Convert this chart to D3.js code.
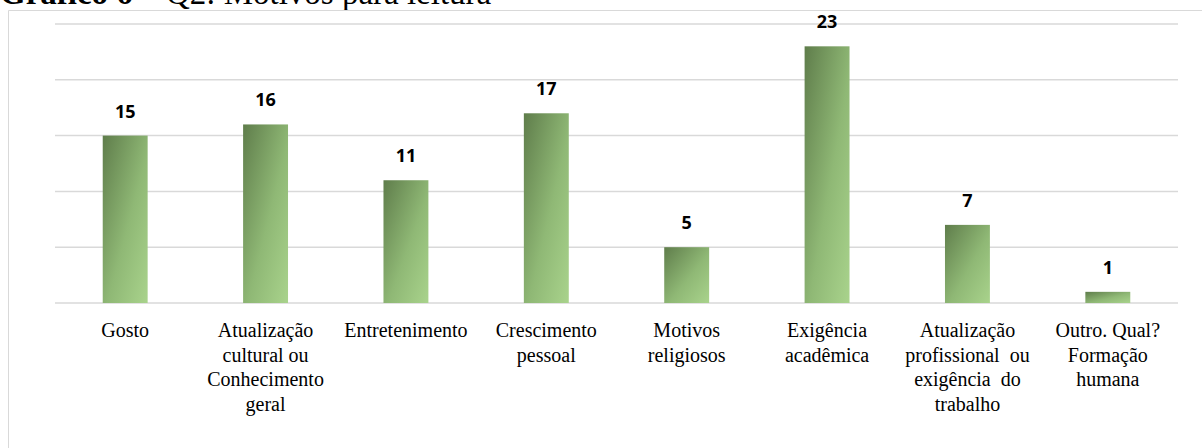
<!DOCTYPE html>
<html>
<head>
<meta charset="utf-8">
<script src="https://cdn.jsdelivr.net/npm/d3@7"></script>
<style>
  html, body { margin: 0; padding: 0; background: #fff; }
  svg { display: block; }
</style>
</head>
<body>
<div id="chart"></div>
<script>
// Motivos para leitura – contagem de respostas por categoria
const categories = [
  "Gosto",
  "Atualização cultural ou Conhecimento geral",
  "Entretenimento",
  "Crescimento pessoal",
  "Motivos religiosos",
  "Exigência acadêmica",
  "Atualização profissional ou exigência do trabalho",
  "Outro. Qual? Formação humana"
];
const categoryLines = [
  ["Gosto"],
  ["Atualização", "cultural ou", "Conhecimento", "geral"],
  ["Entretenimento"],
  ["Crescimento", "pessoal"],
  ["Motivos", "religiosos"],
  ["Exigência", "acadêmica"],
  ["Atualização", "profissional  ou", "exigência  do", "trabalho"],
  ["Outro. Qual?", "Formação", "humana"]
];
const values = [15, 16, 11, 17, 5, 23, 7, 1];
const yTicks = [0, 5, 10, 15, 20, 25];

const width = 1202, height = 448;
const svg = d3.select("#chart").append("svg")
  .attr("width", width).attr("height", height);

// Gradient fill for bars (dark top-left to light bottom-right)
const defs = svg.append("defs");
const grad = defs.append("linearGradient")
  .attr("id", "barGrad")
  .attr("x1", 0).attr("y1", 0).attr("x2", 1).attr("y2", 1);
grad.append("stop").attr("offset", "0%").attr("stop-color", "#5f7d4b");
grad.append("stop").attr("offset", "55%").attr("stop-color", "#8fb875");
grad.append("stop").attr("offset", "100%").attr("stop-color", "#a9d38c");

// Title (sits mostly above the top edge of the page)
const title = svg.append("text")
  .attr("x", 0).attr("y", 4)
  .style("font-family", "'Liberation Serif', 'Times New Roman', serif")
  .style("font-size", "33px")
  .attr("fill", "#000");
title.append("tspan").style("font-weight", "bold").text("Gráfico 6 – ");
title.append("tspan").text("Q2: Motivos para leitura");

// Chart frame
svg.append("path")
  .attr("d", "M8.5," + (height + 2) + "V10.5H" + (width + 2))
  .attr("fill", "none")
  .attr("stroke", "#d9d9d9")
  .attr("stroke-width", 1);

const x = d3.scaleBand()
  .domain(categories)
  .range([55, 1178])
  .paddingInner(0.68)
  .paddingOuter(0.34);

const y = d3.scaleLinear()
  .domain([0, 25])
  .range([303, 24]);

// Horizontal gridlines
svg.append("g")
  .selectAll("line")
  .data(yTicks)
  .join("line")
  .attr("x1", 55).attr("x2", 1178)
  .attr("y1", d => y(d)).attr("y2", d => y(d))
  .attr("stroke", "#d9d9d9")
  .attr("stroke-width", 1.5);

// Bars
svg.append("g")
  .selectAll("rect")
  .data(values)
  .join("rect")
  .attr("x", (d, i) => x(categories[i]))
  .attr("width", x.bandwidth())
  .attr("y", d => y(d))
  .attr("height", d => y(0) - y(d))
  .attr("fill", "url(#barGrad)");

// Value labels
svg.append("g")
  .selectAll("text")
  .data(values)
  .join("text")
  .attr("x", (d, i) => x(categories[i]) + x.bandwidth() / 2)
  .attr("y", d => y(d) - 18)
  .attr("text-anchor", "middle")
  .style("font-family", "'Open Sans', 'Liberation Sans', sans-serif")
  .style("font-weight", "bold")
  .style("font-size", "18px")
  .attr("fill", "#000")
  .text(d => d);

// Category labels (wrapped)
const labels = svg.append("g")
  .selectAll("text")
  .data(categories)
  .join("text")
  .attr("text-anchor", "middle")
  .style("font-family", "'Liberation Serif', 'Times New Roman', serif")
  .style("font-size", "20px")
  .style("white-space", "pre")
  .attr("fill", "#000");

labels.each(function (c, i) {
  const cx = x(c) + x.bandwidth() / 2;
  d3.select(this).selectAll("tspan")
    .data(categoryLines[i])
    .join("tspan")
    .attr("x", cx)
    .attr("y", (d, k) => 337 + k * 24.6)
    .text(d => d);
});
</script>
</body>
</html>
